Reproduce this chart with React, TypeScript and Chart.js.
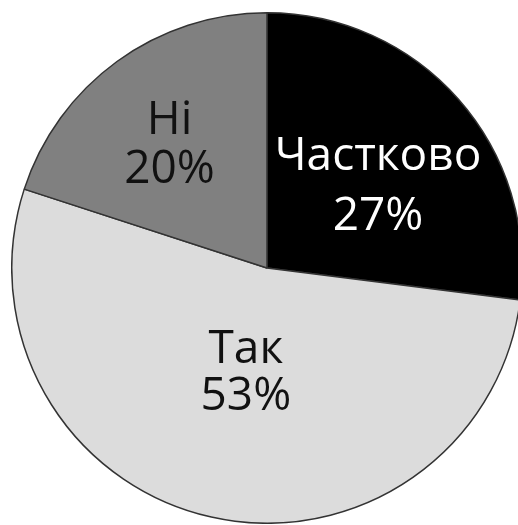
import React, { useEffect, useRef } from "react";
import { Chart, registerables } from "chart.js";

Chart.register(...registerables);

const categories = ["Частково", "Так", "Ні"];
const values = [27, 53, 20];
const colors = ["#000000", "#dcdcdc", "#808080"];
const textColors = ["#ffffff", "#111111", "#111111"];
// label anchor: radial fraction along slice mid-angle, and second line gap
const labelRadial = [0.58, 0.38, 0.65];
const labelGap = [60, 47, 49];

const labelPlugin = {
  id: "sliceLabels",
  afterDatasetsDraw(chart: any) {
    const ctx = chart.ctx;
    const meta = chart.getDatasetMeta(0);
    const ds = chart.data.datasets[0];
    const total = (ds.data as number[]).reduce((a, b) => a + b, 0);
    meta.data.forEach((arc: any, i: number) => {
      const p = arc.getProps(["x", "y", "startAngle", "endAngle", "outerRadius"], true);
      const mid = (p.startAngle + p.endAngle) / 2;
      const r = p.outerRadius * labelRadial[i];
      const x = p.x + Math.cos(mid) * r;
      const y = p.y + Math.sin(mid) * r;
      const pct = Math.round((ds.data[i] / total) * 100) + "%";
      ctx.save();
      ctx.fillStyle = textColors[i];
      ctx.font = '46px "Open Sans"';
      ctx.textAlign = "center";
      ctx.textBaseline = "alphabetic";
      ctx.fillText(chart.data.labels[i], x, y);
      ctx.fillText(pct, x, y + labelGap[i]);
      ctx.restore();
    });
  },
};

export default function App() {
  const ref = useRef<HTMLCanvasElement | null>(null);
  useEffect(() => {
    if (!ref.current) return;
    const chart = new Chart(ref.current, {
      type: "pie",
      data: {
        labels: categories,
        datasets: [
          {
            data: values,
            backgroundColor: colors,
            borderColor: "#333333",
            borderWidth: 1.5,
            hoverOffset: 0,
            offset: 0,
          },
        ],
      },
      options: {
        animation: false,
        responsive: false,
        maintainAspectRatio: false,
        layout: { padding: 0 },
        plugins: {
          legend: { display: false },
          tooltip: { enabled: false },
        },
        events: [],
      },
      plugins: [labelPlugin],
    });
    return () => chart.destroy();
  }, []);
  return (
    <div
      style={{
        position: "fixed",
        left: 0,
        top: 0,
        width: 518,
        height: 525,
        overflow: "hidden",
        background: "#ffffff",
      }}
    >
      <div style={{ position: "absolute", left: 11, top: 12, width: 512, height: 512 }}>
        <canvas ref={ref} width={512} height={512} style={{ width: 512, height: 512 }} />
      </div>
    </div>
  );
}
